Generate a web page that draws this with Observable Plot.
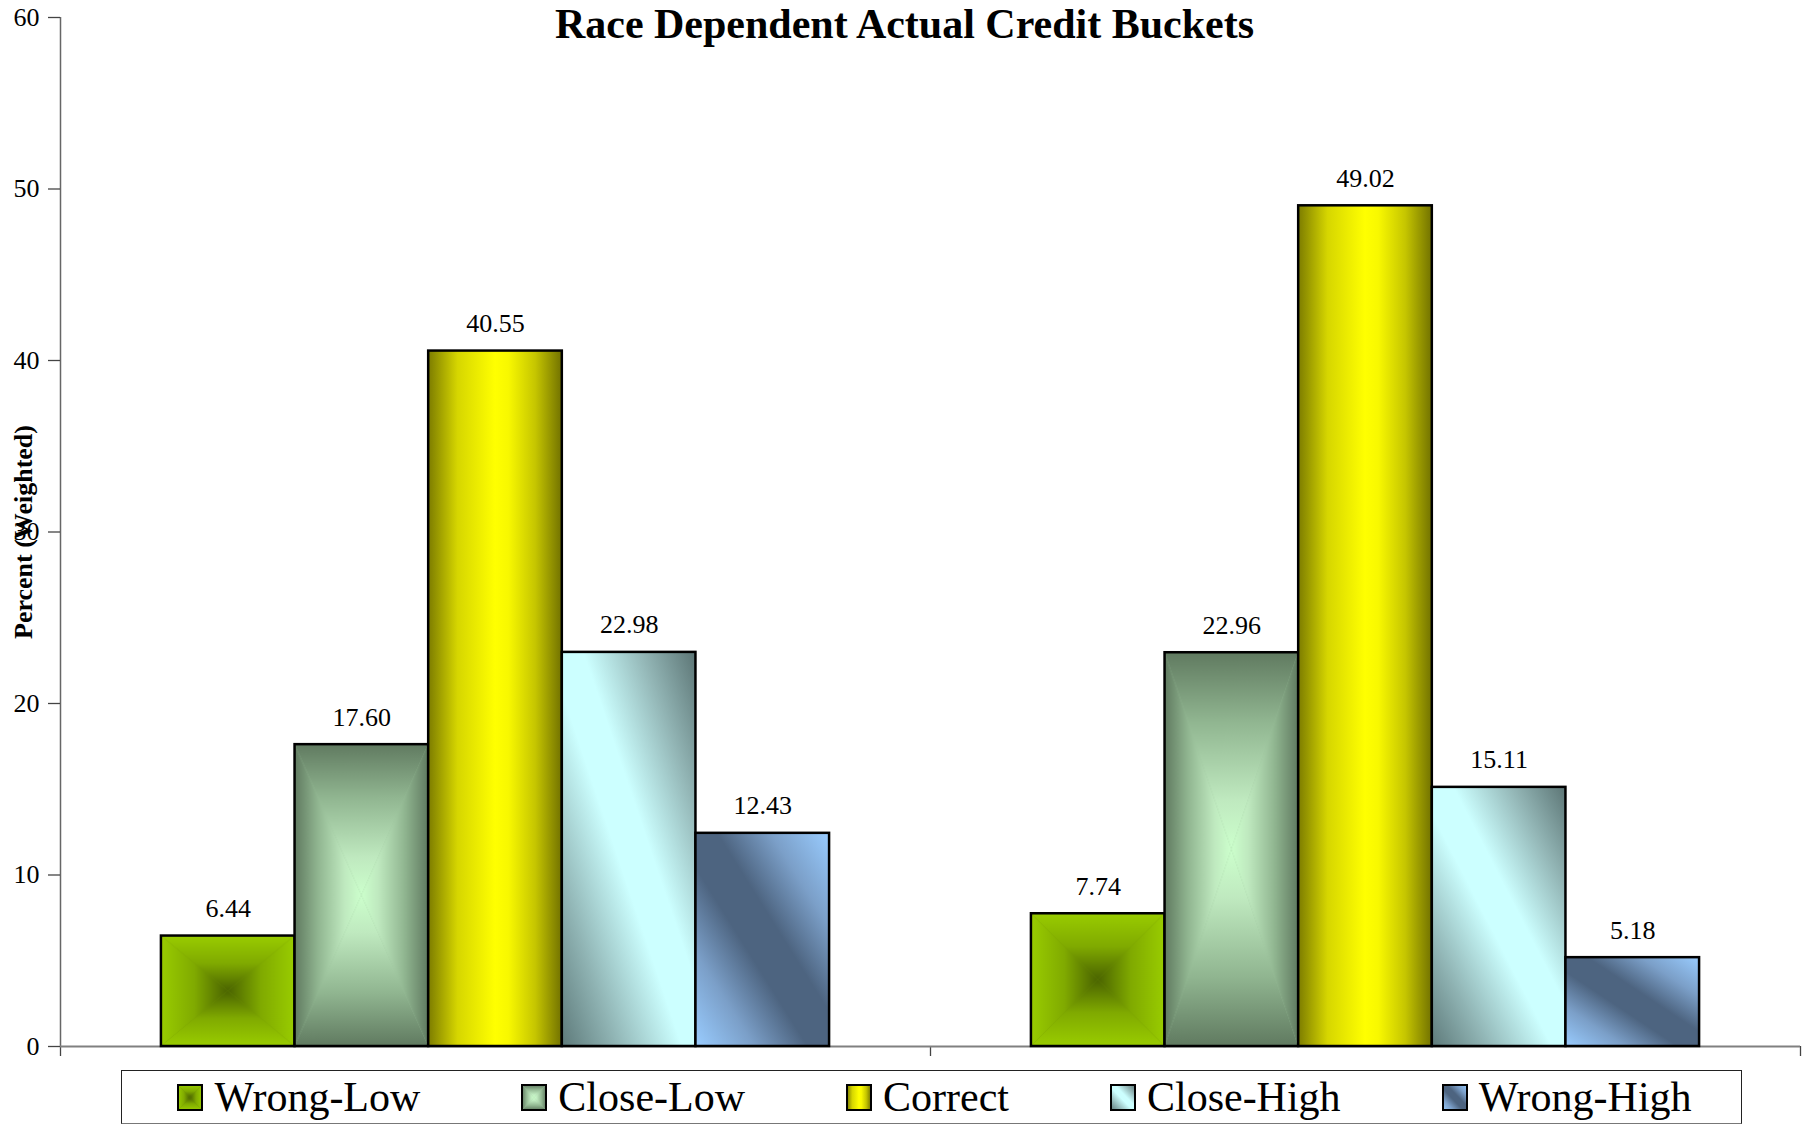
<!DOCTYPE html>
<html>
<head>
<meta charset="utf-8">
<script src="https://cdn.jsdelivr.net/npm/d3@7"></script>
<script src="https://cdn.jsdelivr.net/npm/@observablehq/plot@0.6"></script>
<style>
  html, body { margin: 0; padding: 0; background: #fff; }
  #page { position: relative; width: 1803px; height: 1126px; overflow: hidden; font-family: "Liberation Serif", "Times New Roman", serif; }
  #title { position: absolute; left: 0; top: 1px; width: 1803px; padding-left: 6px; box-sizing: border-box; text-align: center; font-weight: bold; font-size: 42px; line-height: 47px; white-space: nowrap; }
  #ytitle { position: absolute; left: 24px; top: 532px; transform: translate(-50%, -50%) rotate(-90deg); font-weight: bold; font-size: 26px; line-height: 26px; white-space: nowrap; }
  #chart { position: absolute; left: 0; top: 0; }
  #legend { position: absolute; left: 121px; top: 1070px; width: 1621px; height: 54px; box-sizing: border-box; border: 1.5px solid #222; border-bottom-color: #777; display: flex; align-items: center; justify-content: center; gap: 101px; font-size: 42px; line-height: 50px; padding-left: 6px; }
  .item { display: flex; align-items: center; gap: 11px; white-space: nowrap; }
  .item svg { display: block; }
</style>
</head>
<body>
<div id="page">
  <div id="chart"></div>
  <div id="title">Race Dependent Actual Credit Buckets</div>
  <div id="ytitle">Percent (Weighted)</div>
  <div id="legend"></div>
</div>
<script>
// Outcome buckets, in drawing order within each group
const categories = ["Wrong-Low", "Close-Low", "Correct", "Close-High", "Wrong-High"];
const groups = ["Group 1", "Group 2"];
const group1Values = [6.44, 17.60, 40.55, 22.98, 12.43];
const group2Values = [7.74, 22.96, 49.02, 15.11, 5.18];
const yTicks = [0, 10, 20, 30, 40, 50, 60];

// Fill id for each bucket
const fillIds = ["fillWrongLow", "fillCloseLow", "fillCorrect", "fillCloseHigh", "fillWrongHigh"];

const rows = [group1Values, group2Values].flatMap((vals, g) =>
  vals.map((value, c) => ({group: groups[g], g, c, category: categories[c], value}))
);

// Bar layout inside each group slot (x scale runs 0..groups.length)
const outer = 0.116;
const bw = (1 - 2 * outer) / categories.length;
const x1 = d => d.g + outer + d.c * bw;
const x2 = d => d.g + outer + (d.c + 1) * bw;
const xc = d => d.g + outer + (d.c + 0.5) * bw;

const chart = Plot.plot({
  width: 1803,
  height: 1060,
  marginTop: 17,
  marginBottom: 14,
  marginLeft: 60,
  marginRight: 3,
  style: {fontFamily: "Liberation Serif, Times New Roman, serif", fontSize: "26px", color: "black", background: "transparent", overflow: "visible"},
  x: {domain: [0, groups.length]},
  y: {domain: [0, 60]},
  marks: [
    Plot.ruleX([0], {stroke: "#666", strokeWidth: 1.5}),
    Plot.axisY({ticks: yTicks, tickSize: 12, tickPadding: 9, fontSize: 26, label: null, stroke: "#444", strokeWidth: 1.3, fill: "black"}),
    Plot.axisX({ticks: d3.range(groups.length + 1), tickSize: 10, tickFormat: () => "", label: null, stroke: "#444", strokeWidth: 1.3}),
    Plot.ruleY([0], {stroke: "#808080", strokeWidth: 2}),
    ...categories.map((cat, c) =>
      Plot.rect(rows.filter(d => d.c === c), {
        x1, x2, y1: 0, y2: "value",
        fill: `url(#${fillIds[c]})`,
        stroke: "black", strokeWidth: 2.5
      })
    ),
    Plot.text(rows, {
      x: xc, y: "value",
      text: d => d.value.toFixed(2),
      dy: -19, lineAnchor: "bottom", fontSize: 26, fill: "black"
    })
  ]
});

document.getElementById("chart").append(chart);

// Gradient and pattern fills shared by bars and legend swatches
const defs = d3.select(chart).insert("defs", ":first-child");

function linear(id, [ax, ay, bx, by], stops) {
  const g = defs.append("linearGradient").attr("id", id)
    .attr("x1", ax).attr("y1", ay).attr("x2", bx).attr("y2", by);
  for (const [o, col] of stops) g.append("stop").attr("offset", o).attr("stop-color", col);
}

// Rectangular "from centre" shading built from four triangles meeting in the middle
function boxShade(id, ramp, mid) {
  const rev = ramp.map(([o, col]) => [1 - o, col]).reverse();
  linear(id + "-t", [0, 0, 0, 1], ramp);
  linear(id + "-b", [0, 0, 0, 1], rev);
  linear(id + "-l", [0, 0, 1, 0], ramp);
  linear(id + "-r", [0, 0, 1, 0], rev);
  const p = defs.append("pattern").attr("id", id)
    .attr("patternUnits", "objectBoundingBox")
    .attr("patternContentUnits", "objectBoundingBox")
    .attr("width", 1).attr("height", 1);
  p.append("rect").attr("width", 1).attr("height", 1).attr("fill", mid);
  p.append("polygon").attr("points", "0,0 1,0 0.5,0.5").attr("fill", `url(#${id}-t)`);
  p.append("polygon").attr("points", "0,1 1,1 0.5,0.5").attr("fill", `url(#${id}-b)`);
  p.append("polygon").attr("points", "0,0 0,1 0.5,0.5").attr("fill", `url(#${id}-l)`);
  p.append("polygon").attr("points", "1,0 1,1 0.5,0.5").attr("fill", `url(#${id}-r)`);
}

// ramps run from the bar edge (offset 0) to the bar centre (offset 1)
boxShade("fillWrongLow", [[0, "#99cc00"], [0.5, "#80aa00"], [1, "#4a6300"]], "#739900");
boxShade("fillCloseLow", [[0, "#607a60"], [0.35, "#90b590"], [0.75, "#bfe9bf"], [1, "#ccffcc"]], "#97bd97");
linear("fillCorrect", [0, 0, 1, 0], [[0, "#7c7c00"], [0.22, "#d6d600"], [0.5, "#ffff00"], [0.6, "#f8f800"], [0.8, "#c6c600"], [1, "#727200"]]);
linear("fillCloseHigh", [0, 1, 1, 0], [[0, "#5e7a7a"], [0.2, "#8fb3b3"], [0.45, "#ccffff"], [0.58, "#ccffff"], [0.8, "#93b6b6"], [1, "#5c7575"]]);
linear("fillWrongHigh", [0, 1, 1, 0], [[0, "#99ccff"], [0.22, "#7b9fc8"], [0.42, "#4d6480"], [0.58, "#4d6480"], [0.78, "#7b9fc8"], [1, "#99ccff"]]);

// Legend below the plot
const legend = d3.select("#legend");
categories.forEach((cat, c) => {
  const item = legend.append("div").attr("class", "item");
  const sw = item.append("svg").attr("width", 26).attr("height", 27);
  sw.append("rect").attr("x", 1).attr("y", 1).attr("width", 24).attr("height", 25)
    .attr("fill", `url(#${fillIds[c]})`).attr("stroke", "black").attr("stroke-width", 2);
  item.append("span").text(cat);
});
</script>
</body>
</html>
